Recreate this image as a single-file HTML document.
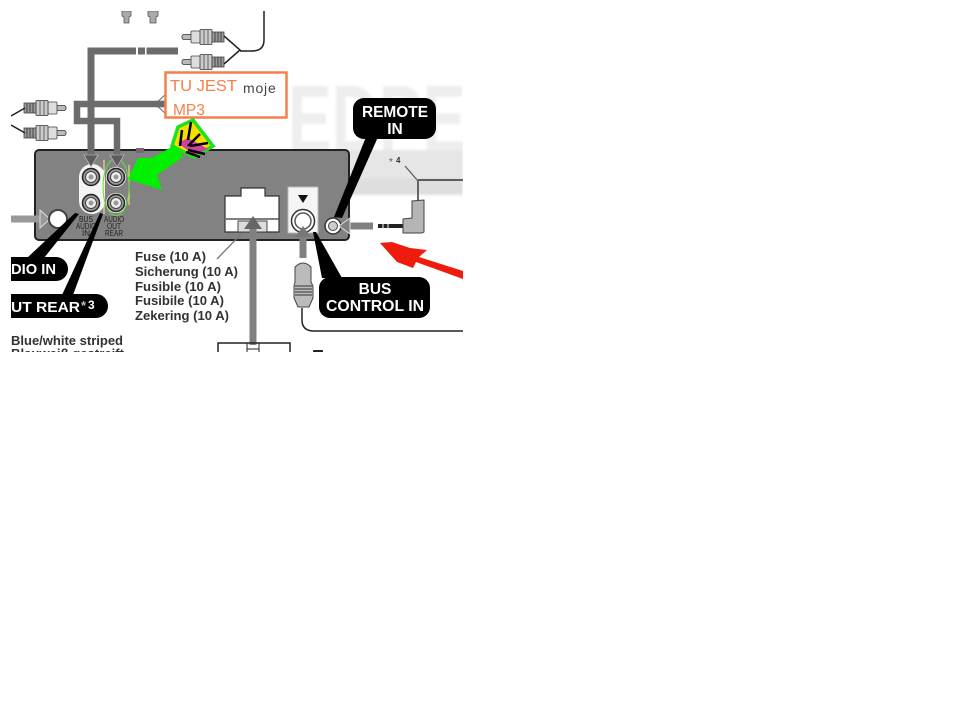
<!DOCTYPE html>
<html>
<head>
<meta charset="utf-8">
<style>
html,body{margin:0;padding:0;background:#fff;width:962px;height:716px;overflow:hidden}
svg{display:block;position:absolute;left:0;top:0}
text{font-family:"Liberation Sans",sans-serif}
</style>
</head>
<body>
<svg width="962" height="716" viewBox="0 0 962 716">
<defs>
<clipPath id="c"><rect x="11" y="11" width="452" height="341"/></clipPath>
<filter id="b" x="-10%" y="-10%" width="120%" height="120%"><feGaussianBlur stdDeviation="0.3"/></filter>
<filter id="w" x="-10%" y="-10%" width="120%" height="120%"><feGaussianBlur stdDeviation="1.4"/></filter>
<g id="rca">
<rect x="0" y="-2.500" width="10" height="5" rx="2" fill="#bbb" stroke="#333" stroke-width=".8"/>
<rect x="9" y="-6" width="10" height="12" rx="1" fill="#ddd" stroke="#444" stroke-width=".8"/>
<rect x="18" y="-7.500" width="12" height="15" rx="1" fill="#ccc" stroke="#333" stroke-width=".8"/>
<path d="M22 -7.500V7.500M26 -7.500V7.500" stroke="#666" stroke-width="1"/>
<rect x="30" y="-5" width="12" height="10" fill="#999" stroke="#444" stroke-width=".8"/>
<path d="M33 -5V5M36 -5V5M39 -5V5" stroke="#444" stroke-width="1"/>
</g>
<g id="jack">
<circle r="10" fill="#f5f5f5"/>
<circle r="8.500" fill="#999" stroke="#222" stroke-width="1.500"/>
<circle r="5.500" fill="#eee" stroke="#444" stroke-width="1"/>
<circle r="2.500" fill="#999"/>
</g>
</defs>
<g clip-path="url(#c)">
<rect x="11" y="11" width="452" height="341" fill="#fff"/>

<!-- watermark -->
<g filter="url(#w)">
<text x="288" y="152" font-family="Liberation Serif" font-weight="bold" font-size="96" fill="#eeeeee" textLength="178" lengthAdjust="spacingAndGlyphs">EDPE</text>
<rect x="349" y="150" width="114" height="45" fill="#e6e6e6"/>
<rect x="349" y="178" width="114" height="17" fill="#dedede"/>
</g>

<!-- top plugs -->
<g fill="#aaa" stroke="#555" stroke-width=".8">
<path d="M122 11h9v5l-2 1v6h-5v-6l-2-1z"/>
<path d="M148 11h10v5l-2 1v6h-6v-6l-2-1z"/>
</g>
<use href="#rca" x="182" y="37"/>
<use href="#rca" x="182" y="62"/>
<path d="M224 36L240 50L224 64M240 51H252Q264 51 264 40V11" fill="none" stroke="#222" stroke-width="1.500"/>

<!-- left plugs -->
<use href="#rca" transform="translate(66,108) scale(-1,1)"/>
<use href="#rca" transform="translate(66,133) scale(-1,1)"/>
<path d="M25 108L11 116M25 133L11 125" fill="none" stroke="#222" stroke-width="1.500"/>

<!-- panel -->
<rect x="35" y="150" width="314" height="90" rx="4" fill="#828282" stroke="#222" stroke-width="2"/>
<rect x="136" y="148" width="8" height="5" fill="#77657a"/>

<!-- RCA jacks -->
<rect x="79" y="164" width="26" height="50" rx="13" fill="#f4f4f4"/>
<path d="M104 160V214" stroke="#f5f0a0" stroke-width="1"/>
<path d="M129 165V205" stroke="#f4ee70" stroke-width="1"/>
<use href="#jack" x="91" y="177"/>
<use href="#jack" x="91" y="203"/>
<use href="#jack" x="116" y="177"/>
<use href="#jack" x="116" y="203"/>
<ellipse cx="116" cy="187" rx="13" ry="28.500" fill="none" stroke="#5fe040" stroke-width="1"/>

<!-- gray routes -->
<path d="M178 51H91V158" fill="none" stroke="#6c6c6c" stroke-width="7"/>
<rect x="136" y="47" width="2" height="8" fill="#fff"/>
<rect x="145" y="47" width="1.500" height="8" fill="#fff"/>
<path d="M165 104H77V121H117V158" fill="none" stroke="#6c6c6c" stroke-width="6.500"/>
<path d="M84 155H98L91 167Z" fill="#5c5c5c" stroke="#ccc" stroke-width=".6"/>
<path d="M110 155H124L117 167Z" fill="#5c5c5c" stroke="#ccc" stroke-width=".6"/>
<path d="M166 94L155 104L166 114" fill="none" stroke="#666" stroke-width="1"/>

<!-- orange box -->
<rect x="165.500" y="72.500" width="121" height="45" fill="#fff" stroke="#f4804a" stroke-width="2.500"/>
<path d="M155 104H164" stroke="#6c6c6c" stroke-width="6.500"/>
<text x="170" y="91" font-size="15.500" fill="#f4804a" textLength="67" lengthAdjust="spacingAndGlyphs">TU JEST</text>
<text x="243" y="93" font-size="14" fill="#444" letter-spacing=".8">moje</text>
<text x="173" y="115" font-size="15.500" fill="#f4804a">MP3</text>

<!-- green marker -->
<path d="M172 146L178 127L193 120L213 146L194 157Z" fill="#f3e000" stroke="#1fe01f" stroke-width="3.500"/>
<path d="M178 143L188 138L208 149L194 155Z" fill="#d040a0"/>
<path d="M182 130L180 146M191 122L188 140M200 134L188 146M190 146L208 143M188 150L205 154M186 152L200 157" stroke="#000" stroke-width="2.500" fill="none"/>
<path d="M175 145L152 158L138 158L128 179L162 190L157 175L183 157Z" fill="#00f000"/>

<!-- left jack -->
<path d="M11 219H42" stroke="#999" stroke-width="7"/>
<path d="M40 210L50 219L40 228Z" fill="#999" stroke="#ddd" stroke-width="1"/>
<circle cx="58" cy="219" r="9" fill="#fff" stroke="#444" stroke-width="2"/>

<!-- small labels -->
<g font-size="8" text-anchor="middle" fill="#222" filter="url(#b)">
<text x="86" y="222" textLength="14" lengthAdjust="spacingAndGlyphs">BUS</text><text x="86" y="229" textLength="20" lengthAdjust="spacingAndGlyphs">AUDIO</text><text x="86" y="236">IN</text>
<text x="114" y="222" textLength="20" lengthAdjust="spacingAndGlyphs">AUDIO</text><text x="114" y="229" textLength="14" lengthAdjust="spacingAndGlyphs">OUT</text><text x="114" y="236" textLength="18" lengthAdjust="spacingAndGlyphs">REAR</text>
</g>

<!-- left callouts -->
<path d="M27 258L44 258L79 214L75 213Z" fill="#000"/>
<path d="M62 295L73 295L103 214L100 213Z" fill="#000"/>
<path d="M11 257H56a12 12 0 0 1 0 24H11Z" fill="#000"/>
<path d="M11 294H96a12 12 0 0 1 0 24H11Z" fill="#000"/>
<text x="11" y="274" font-size="15" font-weight="bold" fill="#fff" textLength="45" lengthAdjust="spacingAndGlyphs">DIO IN</text>
<text x="11" y="312" font-size="15" font-weight="bold" fill="#fff" textLength="69" lengthAdjust="spacingAndGlyphs">UT REAR</text>
<text x="81" y="310" font-size="13" font-weight="bold" fill="#bbb">*</text>
<text x="88" y="309" font-size="12" font-weight="bold" fill="#fff">3</text>

<!-- fuse text -->
<g font-size="13" font-weight="bold" fill="#333" filter="url(#b)">
<text x="135" y="261" textLength="71" lengthAdjust="spacingAndGlyphs">Fuse (10 A)</text>
<text x="135" y="276" textLength="103" lengthAdjust="spacingAndGlyphs">Sicherung (10 A)</text>
<text x="135" y="291" textLength="86" lengthAdjust="spacingAndGlyphs">Fusible (10 A)</text>
<text x="135" y="305" textLength="89" lengthAdjust="spacingAndGlyphs">Fusibile (10 A)</text>
<text x="135" y="320" textLength="94" lengthAdjust="spacingAndGlyphs">Zekering (10 A)</text>
<text x="11" y="345" textLength="112" lengthAdjust="spacingAndGlyphs">Blue/white striped</text>
<text x="11" y="358" textLength="113" lengthAdjust="spacingAndGlyphs">Blauweiß gestreift</text>
</g>
<path d="M217 259L245 230" stroke="#777" stroke-width="1.300"/>

<!-- main connector -->
<path d="M225 196H241V188H265V196H279V232H225Z" fill="#fff" stroke="#333" stroke-width="1.200"/>
<path d="M226 219H279" stroke="#555" stroke-width="1.500"/>
<rect x="238" y="221" width="29" height="11" fill="#ddd" stroke="#444" stroke-width="1"/>
<path d="M253 345V226" stroke="#808080" stroke-width="7"/>
<path d="M244 229L253 216L262 229Z" fill="#666"/>
<path d="M218 352V343H290V352" fill="none" stroke="#222" stroke-width="1.500"/>
<path d="M247 343V352M259 343V352M247 349H259" fill="none" stroke="#222" stroke-width="1"/>
<rect x="313" y="350" width="10" height="3" rx="1" fill="#222"/>

<!-- bus control -->
<rect x="288" y="187" width="30" height="46" fill="#f5f5f5" stroke="#bbb" stroke-width="1"/>
<path d="M298 195H308L303 203Z" fill="#111"/>
<circle cx="303" cy="221" r="11.500" fill="#fff" stroke="#333" stroke-width="1.500"/>
<circle cx="303" cy="221" r="8" fill="#fff" stroke="#555" stroke-width="1.500"/>
<path d="M303 258V236" stroke="#808080" stroke-width="7"/>
<path d="M295 237L303 226L311 237Z" fill="#777"/>
<path d="M295 267Q303 259 311 267V282L313 286V298L309 307H298L294 298V286L295 282Z" fill="#bbb" stroke="#444" stroke-width="1"/>
<path d="M295 286H312M295 289H312M295 292H312M295 295H312" stroke="#333" stroke-width="1"/>
<path d="M302 308V320Q302 331 314 331H463" fill="none" stroke="#222" stroke-width="1.500"/>
<path d="M313 232L316 232L342 278H322Z" fill="#000"/>
<rect x="319" y="277" width="111" height="41" rx="11" fill="#000"/>
<text x="375" y="294" font-size="15.500" font-weight="bold" fill="#fff" text-anchor="middle">BUS</text>
<text x="375" y="311" font-size="15.500" font-weight="bold" fill="#fff" text-anchor="middle" textLength="98" lengthAdjust="spacingAndGlyphs">CONTROL IN</text>

<!-- remote -->
<path d="M366 137L378 137L342 218L334 217Z" fill="#000"/>
<rect x="353" y="98" width="83" height="41" rx="11" fill="#000"/>
<text x="395" y="117" font-size="15.500" font-weight="bold" fill="#fff" text-anchor="middle" textLength="66" lengthAdjust="spacingAndGlyphs">REMOTE</text>
<text x="395" y="134" font-size="15.500" font-weight="bold" fill="#fff" text-anchor="middle">IN</text>
<circle cx="333" cy="226" r="8" fill="#fff" stroke="#333" stroke-width="1.500"/>
<circle cx="333" cy="226" r="4.500" fill="#ccc" stroke="#444" stroke-width="1"/>
<path d="M373 226H348" stroke="#808080" stroke-width="7"/>
<path d="M350 218L339 226L350 234Z" fill="#808080" stroke="#ddd" stroke-width="1"/>
<text x="389" y="165" font-size="10" fill="#555">*</text>
<text x="396" y="163" font-size="8" font-weight="bold" fill="#333">4</text>
<path d="M405 166L418 181" stroke="#555" stroke-width="1.200"/>
<path d="M418 180H463" stroke="#333" stroke-width="1.500"/>
<path d="M418 181V200" stroke="#666" stroke-width="2"/>
<path d="M378 226H403" stroke="#222" stroke-width="4"/>
<path d="M383 224V228M388 224V228" stroke="#fff" stroke-width="1"/>
<path d="M403 219L412 218V201L424 200V232L422 233H403Z" fill="#b5b5b5" stroke="#444" stroke-width="1"/>

<!-- red mark -->
<path d="M380 243L392 242L410 248L427 250L419 257L463 271V279L416 262L413 268L397 262Z" fill="#ee1c0c"/>
</g>
</svg>
</body>
</html>
